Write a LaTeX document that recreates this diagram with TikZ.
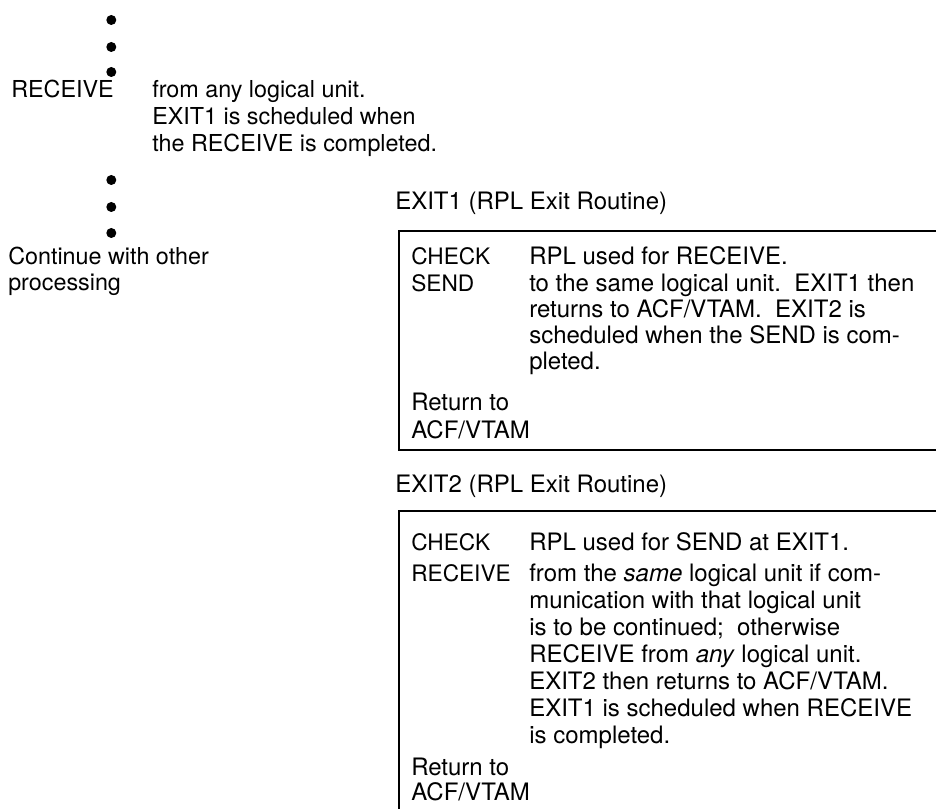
\documentclass[tikz,border=0pt]{standalone}
\usepackage{fontspec}
\setmainfont{TeX Gyre Heros}
\usetikzlibrary{positioning}

\tikzset{
  txt/.style={anchor=base west,inner sep=0pt,font=\fontsize{17.5pt}{20pt}\selectfont},
  labeltxt/.style={txt,font=\fontsize{18pt}{20pt}\selectfont},
  keytxt/.style={txt,font=\fontsize{17pt}{20pt}\selectfont},
  bodytxt/.style={txt,font=\fontsize{18pt}{20pt}\selectfont},
  boxline/.style={line width=2pt},
}

\begin{document}
\begin{tikzpicture}[x=0.75pt,y=-0.75pt]
  \useasboundingbox (0,0) rectangle (936,809);
  \clip (0,0) rectangle (936,809);
  % main program, left column
  \node[txt] (recv) at (11,98) {RECEIVE};
  \foreach \y in {20,47,72,180,207,233}
    \fill ([xshift=-2pt]recv.east |- 0,\y) circle (3.75pt);
  \foreach \t [count=\i] in {{from any logical unit.},{EXIT1 is scheduled when},{the RECEIVE is completed.}}
    \node[txt] (recvnote-\i) at (152,{98+27*(\i-1)}) {\t};
  \node[txt] (cont) at (8,265) {Continue with other};
  \node[txt] (proc) at (8,291) {processing};
  % EXIT1 routine
  \node[labeltxt] (exitA) at (395,210) {EXIT1 (RPL Exit Routine)};
  \draw[boxline] (940,231) -- (399,231) -- (399,450) -- (940,450);
  \node[keytxt] (checkA) at (411,265) {CHECK};
  \node[bodytxt] (checkAtxt) at (529,265) {RPL used for RECEIVE.};
  \node[keytxt] (send) at (411,292) {SEND};
  \foreach \t [count=\i] in {{to the same logical unit.\ \ EXIT1 then},{returns to ACF/VTAM.\ \ EXIT2 is},{scheduled when the SEND is com-},{pleted.}}
    \node[bodytxt] (sendtxt-\i) at (529,{292+26*(\i-1)}) {\t};
  \node[bodytxt] (retA-1) at (411,411) {Return to};
  \node[bodytxt] (retA-2) at (411,438) {ACF/VTAM};
  % EXIT2 routine
  \node[labeltxt] (exitB) at (395,492) {EXIT2 (RPL Exit Routine)};
  \draw[boxline] (940,511) -- (399,511) -- (399,815);
  \node[keytxt] (checkB) at (411,550) {CHECK};
  \node[bodytxt] (checkBtxt) at (529,550) {RPL used for SEND at EXIT1.};
  \node[keytxt] (recvB) at (411,581) {RECEIVE};
  \foreach \t [count=\i] in {{from the \textit{same} logical unit if com-},{munication with that logical unit},{is to be continued;\ \ otherwise},{RECEIVE from \textit{any} logical unit.},{EXIT2 then returns to ACF/VTAM.},{EXIT1 is scheduled when RECEIVE},{is completed.}}
    \node[bodytxt] (recvBtxt-\i) at (529,{581+27*(\i-1)}) {\t};
  \node[bodytxt] (retB-1) at (411,775) {Return to};
  \node[bodytxt] (retB-2) at (411,800) {ACF/VTAM};
\end{tikzpicture}
\end{document}
